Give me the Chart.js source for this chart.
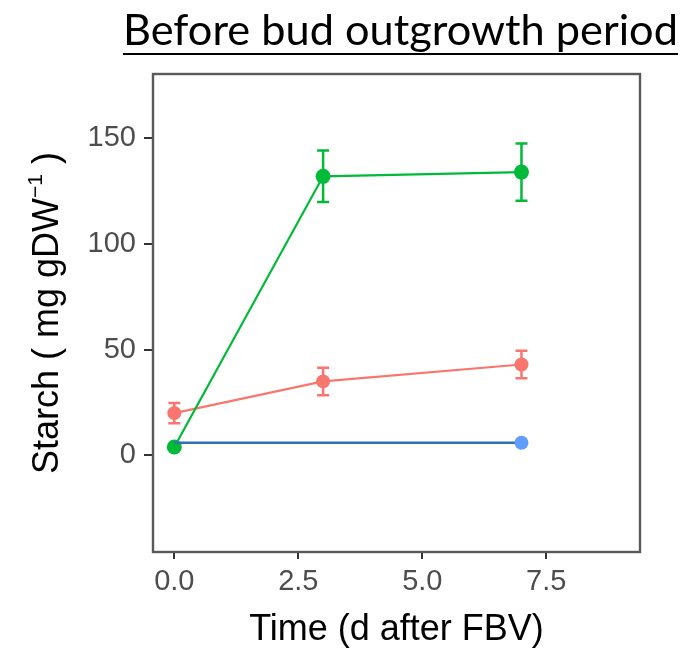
<!DOCTYPE html>
<html>
<head>
<meta charset="utf-8">
<script src="https://cdn.jsdelivr.net/npm/chart.js@4"></script>
<style>
  body { margin: 0; background: #fff; }
  canvas { display: block; }
</style>
</head>
<body>
<canvas id="starchChart" width="687" height="649"></canvas>
<script>
// values
let days = [0, 3, 7]
let blueDays = [0, 7]

let greenStarch = [4, 132, 134]
let greenErr = [0, 12.2, 13.5]

let redStarch = [20, 35, 43]
let redErr = [4.8, 6.5, 6.5]

let blueStarch = [6, 6]

let xTicks = [0, 2.5, 5, 7.5]
let yTicks = [0, 50, 100, 150]

let chartTitle = "Before bud outgrowth period"
let xTitle = "Time (d after FBV)"

const green = '#00BA38'
const red = '#F8766D'
const blueLine = '#2F6FB3'
const bluePoint = '#619CFF'

function toPoints(xs, ys) {
    return xs.map((x, i) => ({ x: x, y: ys[i] }))
}

// error bars + frame + titles
const extras = {
    id: 'extras',
    beforeDatasetsDraw(chart) {
        const ctx = chart.ctx
        const xs = chart.scales.x
        const ys = chart.scales.y
        const bars = [[greenStarch, greenErr, green], [redStarch, redErr, red]]
        ctx.save()
        ctx.lineWidth = 2.5
        bars.forEach(([vals, errs, col]) => {
            ctx.strokeStyle = col
            vals.forEach((v, i) => {
                if (!errs[i]) return
                const px = xs.getPixelForValue(days[i])
                const top = ys.getPixelForValue(v + errs[i])
                const bot = ys.getPixelForValue(v - errs[i])
                ctx.beginPath()
                ctx.moveTo(px, top); ctx.lineTo(px, bot)
                ctx.moveTo(px - 6, top); ctx.lineTo(px + 6, top)
                ctx.moveTo(px - 6, bot); ctx.lineTo(px + 6, bot)
                ctx.stroke()
            })
        })
        ctx.restore()
    },
    afterDraw(chart) {
        const ctx = chart.ctx
        const a = chart.chartArea
        ctx.save()
        // panel border
        ctx.strokeStyle = '#595959'
        ctx.lineWidth = 2.4
        ctx.strokeRect(a.left, a.top, a.right - a.left, a.bottom - a.top)

        // main title, underlined
        let size = 40
        ctx.font = size + 'px Lato'
        const w = ctx.measureText(chartTitle).width
        size = size * 555 / w
        ctx.font = size + 'px Lato'
        ctx.fillStyle = '#000'
        ctx.textAlign = 'left'
        ctx.textBaseline = 'alphabetic'
        ctx.fillText(chartTitle, 123, 45)
        ctx.fillRect(123, 53, 555, 2)

        // x axis title
        ctx.font = '36px "Liberation Sans"'
        ctx.textAlign = 'center'
        ctx.fillText(xTitle, (a.left + a.right) / 2, 640)

        // y axis title with superscript
        ctx.translate(58, (a.top + a.bottom) / 2)
        ctx.rotate(-Math.PI / 2)
        const big = '36px "Liberation Sans"'
        const small = '21px "Liberation Sans"'
        const p1 = 'Starch ( mg gDW'
        const sup = '\u22121'
        const p2 = ' )'
        ctx.font = big
        const w1 = ctx.measureText(p1).width
        const w3 = ctx.measureText(p2).width
        ctx.font = small
        const w2 = ctx.measureText(sup).width
        let x0 = -(w1 + w2 + w3) / 2
        ctx.textAlign = 'left'
        ctx.font = big
        ctx.fillText(p1, x0, 0)
        ctx.font = small
        ctx.fillText(sup, x0 + w1, -16)
        ctx.font = big
        ctx.fillText(p2, x0 + w1 + w2, 0)
        ctx.restore()
    }
}

let ctx = document.getElementById('starchChart').getContext('2d')
let myChart = new Chart(ctx, {
    type: 'line',
    data: {
        datasets: [
            {
                label: 'blue',
                data: toPoints(blueDays, blueStarch),
                borderColor: blueLine,
                borderWidth: 2.5,
                backgroundColor: bluePoint,
                pointBackgroundColor: bluePoint,
                pointBorderWidth: 0,
                pointRadius: [0, 7],
                order: 0
            },
            {
                label: 'green',
                data: toPoints(days, greenStarch),
                borderColor: green,
                borderWidth: 2.2,
                backgroundColor: green,
                pointBorderWidth: 0,
                pointRadius: 7.5,
                order: 1
            },
            {
                label: 'red',
                data: toPoints(days, redStarch),
                borderColor: red,
                borderWidth: 2.2,
                backgroundColor: red,
                pointBorderWidth: 0,
                pointRadius: 7,
                order: 2
            }
        ]
    },
    options: {
        responsive: false,
        animation: false,
        devicePixelRatio: 1,
        layout: { padding: { top: 74, right: 47, left: 0, bottom: 0 } },
        plugins: {
            legend: { display: false },
            tooltip: { enabled: false }
        },
        scales: {
            x: {
                type: 'linear',
                min: -0.43,
                max: 9.39,
                afterBuildTicks: (scale) => { scale.ticks = xTicks.map(v => ({ value: v })) },
                afterFit: (scale) => { scale.height = 97 },
                grid: { drawOnChartArea: false, drawTicks: true, tickLength: 7, color: '#333', lineWidth: 2 },
                border: { display: false },
                ticks: {
                    padding: 6,
                    color: '#4D4D4D',
                    font: { family: 'Liberation Sans', size: 29 },
                    callback: (v) => Number(v).toFixed(1)
                }
            },
            y: {
                min: -45.7,
                max: 180.4,
                afterBuildTicks: (scale) => { scale.ticks = yTicks.map(v => ({ value: v })) },
                afterFit: (scale) => { scale.width = 153 },
                grid: { drawOnChartArea: false, drawTicks: true, tickLength: 9, color: '#333', lineWidth: 2 },
                border: { display: false },
                ticks: {
                    padding: 8,
                    color: '#4D4D4D',
                    font: { family: 'Liberation Sans', size: 29 },
                    callback: (v) => String(v)
                }
            }
        }
    },
    plugins: [extras]
})
</script>
</body>
</html>
